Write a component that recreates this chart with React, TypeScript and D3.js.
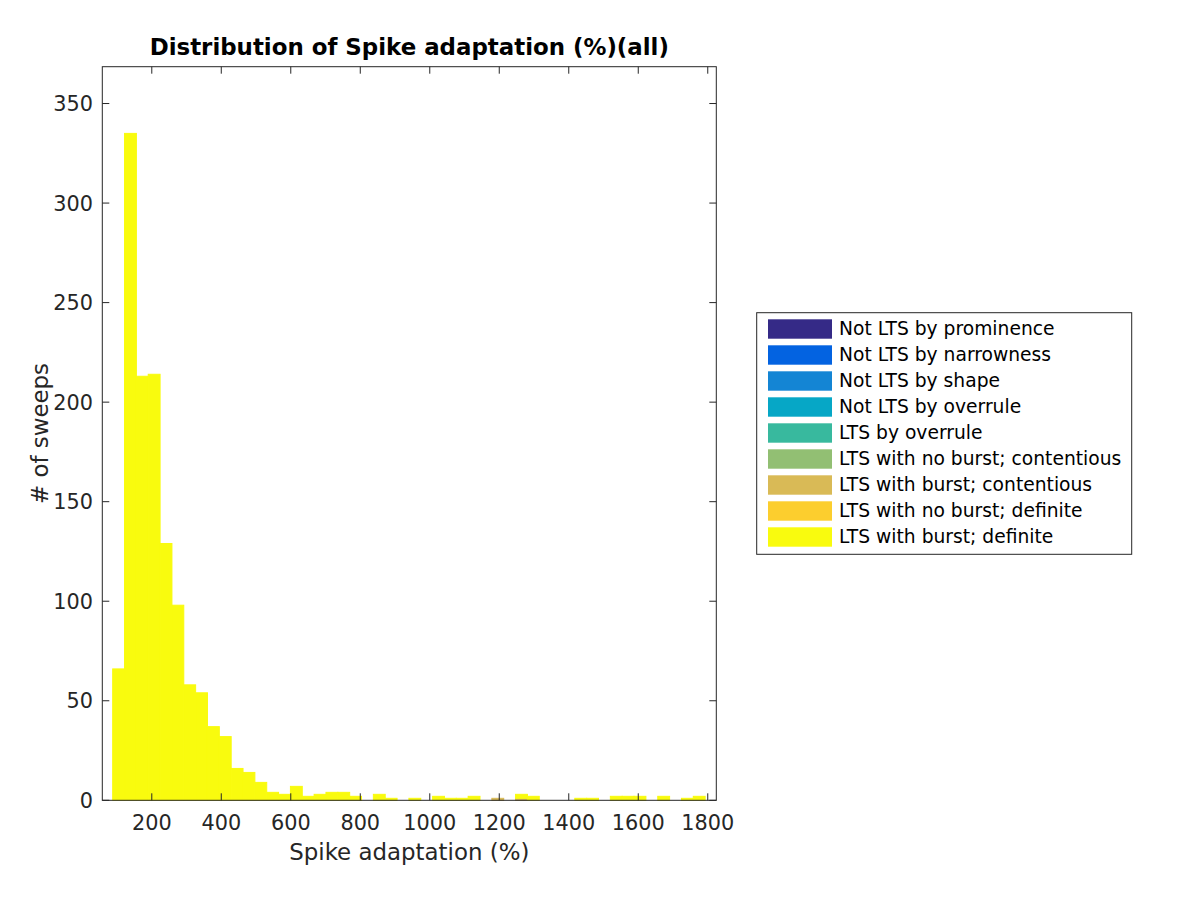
import React from "react";
import * as d3 from "d3";

const categories = [
  "Not LTS by prominence",
  "Not LTS by narrowness",
  "Not LTS by shape",
  "Not LTS by overrule",
  "LTS by overrule",
  "LTS with no burst; contentious",
  "LTS with burst; contentious",
  "LTS with no burst; definite",
  "LTS with burst; definite",
];
const colors = [
  "#352a87",
  "#0363e1",
  "#1485d4",
  "#06a7c6",
  "#38b99e",
  "#92bf73",
  "#d9ba56",
  "#fcce2e",
  "#f9fb0e",
];

const binStart = 87.5;
const binWidth = 34.1;

// LTS with burst; contentious
const countsBurstContentious = [
  0, 0, 0, 0, 0, 0, 0, 0, 0, 0,
  0, 0, 0, 0, 0, 0, 0, 0, 0, 0,
  0, 0, 0, 0, 0, 0, 0, 0, 0, 0,
  0, 0, 1, 0, 1, 0, 0, 0, 0, 0,
  0, 0, 0, 0, 0, 0, 0, 0, 0, 0,
];
// LTS with burst; definite
const countsBurstDefinite = [
  66, 335, 213, 214, 129, 98, 58, 54, 37, 32,
  16, 14, 9, 4, 3, 7, 2, 3, 4, 4,
  2, 0, 3, 1, 0, 1, 0, 2, 1, 1,
  2, 0, 0, 0, 2, 2, 0, 0, 0, 1,
  1, 0, 2, 2, 2, 0, 2, 0, 1, 2,
];

const xTicks = [200, 400, 600, 800, 1000, 1200, 1400, 1600, 1800];
const yTicks = [0, 50, 100, 150, 200, 250, 300, 350];
const xDomain = [57.6, 1824.6];
const yDomain = [0, 368.5];

const titleText = "Distribution of Spike adaptation (%)(all)";
const xLabel = "Spike adaptation (%)";
const yLabel = "# of sweeps";

export default function App() {
  const left = 102.3, right = 716.3, top = 66.7, bottom = 800.3;
  const x = d3.scaleLinear().domain(xDomain).range([left, right]);
  const y = d3.scaleLinear().domain(yDomain).range([bottom, top]);
  const font = "DejaVu Sans, sans-serif";
  const axisColor = "#262626";
  const tickLen = 7;

  const series = [
    { values: countsBurstContentious, color: colors[6] },
    { values: countsBurstDefinite, color: colors[8] },
  ];
  const stacks: { x0: number; x1: number; y0: number; y1: number; color: string }[] = [];
  const base = countsBurstDefinite.map(() => 0);
  series.forEach((s) => {
    s.values.forEach((v, i) => {
      const e0 = binStart + i * binWidth;
      const e1 = e0 + binWidth;
      stacks.push({ x0: e0, x1: e1, y0: base[i], y1: base[i] + v, color: s.color });
      base[i] += v;
    });
  });

  const legX = 756.7, legY = 312.7, legW = 375, legH = 241.6;
  const rowPitch = 26;

  return (
    <svg width={1200} height={900} style={{ display: "block", position: "absolute", left: 0, top: 0 }}>
      <rect x={0} y={0} width={1200} height={900} fill="#ffffff" />
      {stacks.map((b, i) => (
        <rect
          key={i}
          x={x(b.x0)}
          y={y(b.y1)}
          width={x(b.x1) - x(b.x0)}
          height={Math.max(0, y(b.y0) - y(b.y1))}
          fill={b.color}
          stroke={b.color}
          strokeWidth={1}
        />
      ))}
      {/* axes box */}
      <rect x={left} y={top} width={right - left} height={bottom - top} fill="none" stroke={axisColor} strokeWidth={1} />
      {xTicks.map((t) => (
        <g key={"x" + t}>
          <line x1={x(t)} x2={x(t)} y1={bottom} y2={bottom - tickLen} stroke={axisColor} />
          <line x1={x(t)} x2={x(t)} y1={top} y2={top + tickLen} stroke={axisColor} />
          <text x={x(t)} y={830} textAnchor="middle" fontFamily={font} fontSize={20.8} fill={axisColor}>
            {t}
          </text>
        </g>
      ))}
      {yTicks.map((t) => (
        <g key={"y" + t}>
          <line x1={left} x2={left + tickLen} y1={y(t)} y2={y(t)} stroke={axisColor} />
          <line x1={right} x2={right - tickLen} y1={y(t)} y2={y(t)} stroke={axisColor} />
          <text x={93} y={y(t)} dy="0.36em" textAnchor="end" fontFamily={font} fontSize={20.8} fill={axisColor}>
            {t}
          </text>
        </g>
      ))}
      <text x={(left + right) / 2} y={860} textAnchor="middle" fontFamily={font} fontSize={22.9} fill={axisColor}>
        {xLabel}
      </text>
      <text
        transform={`translate(48, ${(top + bottom) / 2}) rotate(-90)`}
        textAnchor="middle"
        fontFamily={font}
        fontSize={22.9}
        fill={axisColor}
      >
        {yLabel}
      </text>
      <text x={(left + right) / 2} y={55} textAnchor="middle" fontFamily={font} fontSize={22.9} fontWeight="bold" fill="#000">
        {titleText}
      </text>
      {/* legend */}
      <rect x={legX} y={legY} width={legW} height={legH} fill="#fff" stroke={axisColor} strokeWidth={1} />
      {categories.map((c, i) => (
        <g key={c}>
          <rect x={768} y={319.3 + i * rowPitch} width={64} height={19.4} fill={colors[i]} />
          <text x={839} y={335.3 + i * rowPitch} fontFamily={font} fontSize={18.7} fill="#000">
            {c}
          </text>
        </g>
      ))}
    </svg>
  );
}
